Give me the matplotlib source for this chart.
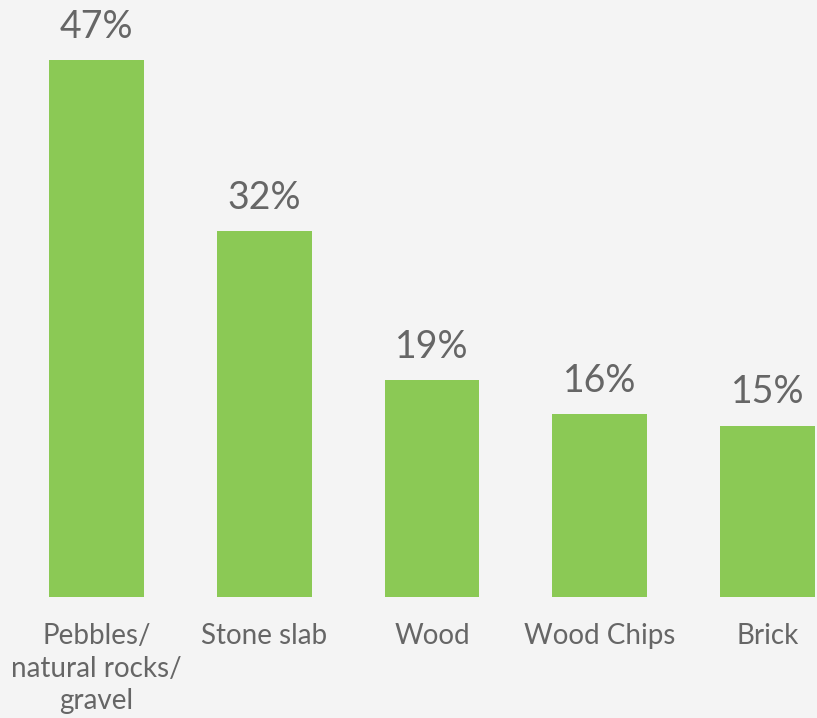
import numpy as np
import matplotlib.pyplot as plt

# ── Data ──────────────────────────────────────────────────────
categories = ["Pebbles/\nnatural rocks/\ngravel", "Stone slab", "Wood", "Wood Chips", "Brick"]
shares     = [47, 32, 19, 16, 15]

BG     = "#f4f4f4"
GREEN  = "#8bc955"
TEXT   = "#666666"

plt.rcParams["font.family"] = ["Lato", "DejaVu Sans"]

fig = plt.figure(figsize=(8.17, 7.18), dpi=100, facecolor=BG)
ax = fig.add_axes([0, 121 / 718, 1, 597 / 718])
ax.set_facecolor(BG)

x = np.arange(len(categories))
bars = ax.bar(x, shares, width=0.566, color=GREEN)

ax.set_xlim(-0.575, 4.295)
ax.set_ylim(0, 597 / (537 / 47))

for bar, v in zip(bars, shares):
    ax.annotate(f"{v}%", (bar.get_x() + bar.get_width() / 2, v),
                xytext=(0, 16), textcoords="offset points",
                ha="center", va="baseline", fontsize=27, color=TEXT)

ax.set_xticks(x)
ax.set_xticklabels(categories, fontsize=20, color=TEXT, linespacing=1.3)
ax.tick_params(axis="x", length=0, pad=19)
ax.set_yticks([])
for s in ax.spines.values():
    s.set_visible(False)

fig.savefig("out.png", dpi=100, facecolor=BG)
